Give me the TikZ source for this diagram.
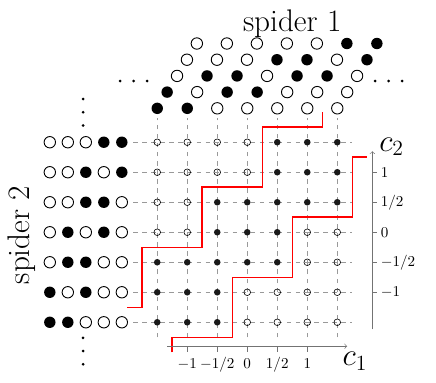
\documentclass[tikz,border=0pt]{standalone}
\usepackage{amsmath,amssymb}
\usepackage{tikz}

\tikzset{
  gpt0/.style={draw=black},
  gpt1/.style={fill=black!90},
  spt0/.style={draw=black,semithick,fill=white},
  spt1/.style={fill=black},
  gridline/.style={gray!80,dashed},
  axis/.style={gray!90!black},
  stair/.style={red,line width=1pt},
  ticklab/.style={text height=0.75em,text depth=0.25em},
}

\begin{document}
\begin{tikzpicture}[x=0.7cm,y=0.7cm]
\useasboundingbox (-8.24,-5.02) rectangle (6.29,7.74);
% dashed grid
\foreach \x in {-3,...,3} { \draw[gridline] (\x,-3.5) -- (\x,3.8); }
\foreach \y in {-3,...,3} { \draw[gridline] (-3.8,\y) -- (3.5,\y); }
% lattice points
\foreach \y/\pat in {3/{0,0,0,0,1,1,1},2/{0,0,0,0,1,1,1},1/{0,0,1,1,1,1,1},0/{0,0,1,1,1,0,0},
                     -1/{1,1,1,1,1,0,0},-2/{1,1,1,0,0,0,0},-3/{1,1,1,0,0,0,0}} {
  \foreach \v [count=\k from -3] in \pat { \path[gpt\v] (\k,\y) circle (0.11); }
}
% spider 1
\foreach \r/\pat in {0/{1,1,0,0,0,0,0},1/{1,0,1,1,0,0,0},2/{0,1,1,0,1,1,0},
                     3/{0,0,0,1,1,0,1},4/{0,0,0,0,0,1,1}} {
  \foreach \v [count=\k from -3] in \pat { \path[spt\v] (\k+0.33*\r,4.13+0.54*\r) circle (0.19); }
}
\foreach \x in {-4.24,-3.79,-3.34,4.26,4.71,5.16} { \fill (\x,5.04) circle (0.05); }
\node (sp1) at (1.5,6.94) {\huge spider 1};
% spider 2
\foreach \y/\pat in {3/{0,0,0,1,1},2/{0,0,1,0,1},1/{0,0,1,1,0},0/{0,1,0,1,0},
                     -1/{0,1,1,0,0},-2/{1,0,1,0,0},-3/{1,1,0,0,0}} {
  \foreach \v [count=\k from 0] in \pat { \path[spt\v] (-6.58+0.6*\k,\y) circle (0.19); }
}
\foreach \y in {4.44,4.0,3.56,-3.52,-3.96,-4.4} { \fill (-5.47,\y) circle (0.05); }
\node[rotate=90] (sp2) at (-7.52,-0.09) {\huge spider 2};
% staircases
\draw[stair] (-4,-2.5) -| (-3.5,-0.5) -| (-1.5,1.5) -| (0.5,3.5) -| (2.5,4);
\draw[stair] (-2.5,-4) |- (-0.5,-3.5) |- (1.5,-1.5) |- (3.5,0.5) |- (4,2.5);
% axes
\draw[axis,->] (-2.67,-3.8) -- (3.33,-3.8);
\foreach \x/\lab in {-2/{-1},-1/{-1/2},0/{0},1/{1/2},2/{1}} {
  \draw[axis] (\x,-3.8) -- (\x,-4.0) node[below,ticklab,text=black] (tx\x) {$\lab$};
}
\node (c1) at (3.59,-4.29) {\huge $c_1$};
\draw[axis,->] (4.17,-3.24) -- (4.17,2.7);
\foreach \y/\lab in {2/{1},1/{1/2},0/{0},-1/{-1/2},-2/{-1}} {
  \draw[axis] (4.17,\y) -- (4.34,\y) node[right,inner sep=2pt,text=black] (ty\y) {$\lab$};
}
\node (c2) at (4.81,2.85) {\huge $c_2$};
\end{tikzpicture}
\end{document}
